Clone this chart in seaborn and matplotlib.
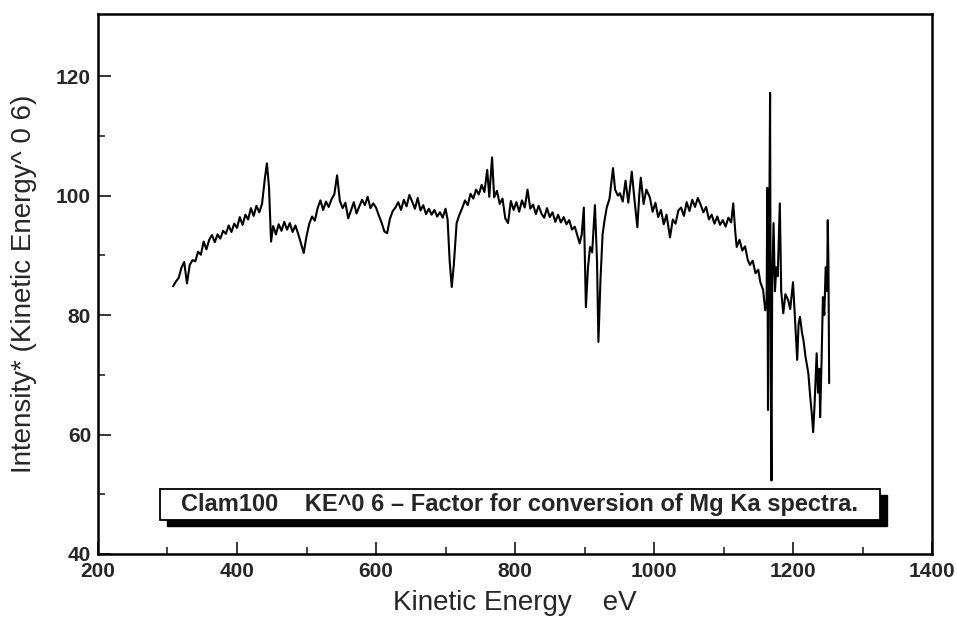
import matplotlib
matplotlib.use("Agg")
import matplotlib.pyplot as plt
from matplotlib.patches import Rectangle
import seaborn as sns
import pandas as pd

# Kinetic energy (eV) and KE^0.6-corrected intensity of the Clam100 spectrum
energy_ev = [
    308, 312, 316, 320, 324, 328, 332, 336, 340, 344, 348, 352, 356, 360, 364, 368,
    372, 376, 380, 384, 388, 392, 396, 400, 404, 408, 412, 416, 420, 424, 428, 432,
    436, 440, 443, 446, 449, 452, 456, 460, 464, 468, 472, 476, 480, 484, 488, 492,
    496, 500, 504, 508, 512, 516, 520, 524, 528, 532, 536, 540, 544, 548, 552, 556,
    560, 564, 568, 572, 576, 580, 584, 588, 592, 596, 600, 604, 608, 612, 616, 620,
    624, 628, 632, 636, 640, 644, 648, 652, 656, 660, 664, 668, 672, 676, 680, 684,
    688, 692, 696, 700, 703, 706, 709, 712, 716, 720, 724, 728, 732, 736, 740, 744,
    748, 752, 756, 760, 763, 767, 770, 774, 778, 782, 786, 790, 794, 798, 802, 806,
    810, 814, 818, 822, 826, 830, 834, 838, 842, 846, 850, 854, 858, 862, 866, 870,
    874, 878, 882, 886, 890, 893, 896, 899, 902, 905, 908, 911, 915, 918, 920, 923,
    926, 929, 932, 936, 941, 944, 948, 951, 955, 959, 963, 968, 972, 976, 979, 981,
    985, 989, 994, 998, 1002, 1006, 1010, 1014, 1018, 1023, 1027, 1031, 1035, 1039,
    1043, 1047, 1051, 1055, 1059, 1063, 1067, 1071, 1075, 1079, 1083, 1087, 1091,
    1095, 1099, 1103, 1107, 1111, 1114, 1117, 1119, 1123, 1127, 1131, 1135, 1138,
    1142, 1146, 1150, 1153, 1157, 1160, 1162, 1163, 1164, 1165, 1166, 1167, 1168,
    1169, 1170, 1172, 1174, 1176, 1178, 1181, 1183, 1186, 1189, 1193, 1196, 1200,
    1203, 1206, 1208, 1210, 1213, 1215, 1218, 1222, 1225, 1227, 1229, 1231, 1233,
    1234, 1236, 1238, 1239, 1241, 1243, 1245, 1247, 1249, 1250, 1251, 1252,
]

intensity = [
    84.8, 85.6, 86.2, 87.9, 88.9, 85.3, 88.4, 89.2, 89.0, 90.6, 90.1, 92.3, 91.0, 92.6, 93.4, 92.2,
    93.5, 92.8, 94.1, 93.6, 95.0, 93.9, 95.3, 94.6, 96.4, 95.1, 96.8, 96.0, 97.9, 96.6, 98.3, 97.2,
    98.6, 102.8, 105.4, 101.5, 92.3, 94.9, 93.5, 95.2, 94.1, 95.6, 94.3, 95.4, 93.9, 95.0, 93.6, 92.0,
    90.4, 93.2, 95.3, 96.5, 95.8, 97.9, 99.2, 97.6, 99.0, 98.1, 99.4, 100.2, 103.4, 99.1, 97.9, 98.8,
    96.2, 97.5, 98.9, 97.0, 98.2, 99.3, 98.4, 99.8, 97.9, 98.7, 98.0, 96.7, 95.5, 94.0, 93.7, 96.1,
    97.4, 98.0, 98.9, 97.6, 99.3, 98.2, 100.1, 99.0, 97.8, 99.6, 97.5, 98.4, 96.9, 97.8, 96.8, 97.6,
    96.5, 97.2, 96.3, 97.8, 96.0, 89.0, 84.7, 88.5, 95.4, 96.8, 97.9, 99.2, 98.4, 100.3, 99.5, 101.0,
    100.2, 101.8, 100.6, 104.3, 99.8, 106.4, 99.7, 100.8, 98.6, 99.5, 96.2, 95.4, 99.1, 97.6, 98.9, 97.3,
    99.2, 98.0, 101.0, 97.8, 98.5, 96.9, 98.3, 97.0, 96.3, 97.9, 96.4, 97.2, 95.6, 96.8, 95.5, 96.4,
    95.2, 95.9, 94.3, 94.8, 93.2, 92.0, 93.5, 98.0, 81.3, 88.0, 91.4, 90.5, 98.4, 89.0, 75.5, 86.0,
    93.5, 96.0, 98.0, 99.5, 104.6, 101.0, 100.0, 100.4, 99.0, 102.5, 98.8, 104.0, 99.2, 94.7, 100.5, 103.0,
    98.6, 101.0, 99.7, 97.3, 98.8, 96.4, 97.6, 95.2, 96.8, 93.0, 96.0, 95.3, 97.5, 98.0,
    96.6, 98.9, 97.4, 99.3, 98.1, 99.6, 98.5, 97.2, 98.1, 96.0, 96.8, 95.3, 96.5,
    95.1, 95.9, 94.8, 96.3, 95.5, 98.7, 93.8, 91.4, 92.6, 90.8, 91.5, 89.2, 88.4,
    89.1, 87.0, 87.6, 85.5, 84.2, 80.8, 82.0, 101.3, 64.1, 90.0, 98.0, 117.2, 70.0,
    52.3, 85.0, 95.4, 84.0, 88.0, 86.5, 98.7, 84.0, 80.3, 83.5, 82.5, 81.0, 85.5,
    79.0, 72.5, 78.5, 79.7, 77.0, 75.8, 73.0, 70.3, 66.0, 63.5, 60.4, 65.0, 70.5,
    73.6, 67.0, 71.0, 62.9, 72.0, 83.0, 80.0, 88.0, 84.0, 95.9, 88.0, 68.6,
]

x_ticks = [200, 400, 600, 800, 1000, 1200, 1400]
y_ticks = [40, 60, 80, 100, 120]
x_label = "Kinetic Energy    eV"
y_label = "Intensity* (Kinetic Energy^ 0 6)"
caption = "Clam100    KE^0 6 \u2013 Factor for conversion of Mg Ka spectra."

sns.set_style("ticks")
plt.rcParams["font.family"] = ["Liberation Sans", "DejaVu Sans"]

df = pd.DataFrame({"energy": energy_ev, "intensity": intensity})

fig = plt.figure(figsize=(9.57, 6.34), dpi=100)
ax = fig.add_axes([0.1024, 0.1262, 0.8715, 0.8517])

sns.lineplot(data=df, x="energy", y="intensity", ax=ax, color="black",
             linewidth=1.5, estimator=None, sort=False)

ax.set_xlim(200, 1400)
ax.set_ylim(40, 130.4)
ax.set_xticks(x_ticks)
ax.set_yticks(y_ticks)
ax.set_xticks(range(300, 1400, 200), minor=True)
ax.set_yticks(range(50, 130, 20), minor=True)
ax.tick_params(which="major", direction="in", length=9, width=1.3,
               labelsize=15, top=False, right=False)
ax.tick_params(axis="x", which="major", pad=6)
ax.tick_params(axis="y", which="major", pad=5)
ax.tick_params(which="minor", direction="in", length=5, width=1.2,
               top=False, right=False)
for lbl in ax.get_xticklabels() + ax.get_yticklabels():
    lbl.set_fontweight("bold")

for side in ["left", "bottom", "top", "right"]:
    ax.spines[side].set_visible(True)
    ax.spines[side].set_linewidth(1.8)
    ax.spines[side].set_color("black")

ax.set_xlabel(x_label, fontsize=20, labelpad=6)
ax.set_ylabel(y_label, fontsize=20, labelpad=14)

# caption box with a drop shadow
bx0, by0, bw, bh = 0.0743, 0.063, 0.8633, 0.0574
ax.add_patch(Rectangle((bx0 + 0.009, by0 - 0.011), bw, bh, transform=ax.transAxes,
                       facecolor="black", edgecolor="black", zorder=4))
ax.add_patch(Rectangle((bx0, by0), bw, bh, transform=ax.transAxes,
                       facecolor="white", edgecolor="black", linewidth=1.3, zorder=5))
ax.text(bx0 + bw / 2, by0 + bh / 2, caption, transform=ax.transAxes,
        ha="center", va="center", fontsize=17, fontweight="bold", zorder=6)

fig.savefig("out.png", dpi=100)
